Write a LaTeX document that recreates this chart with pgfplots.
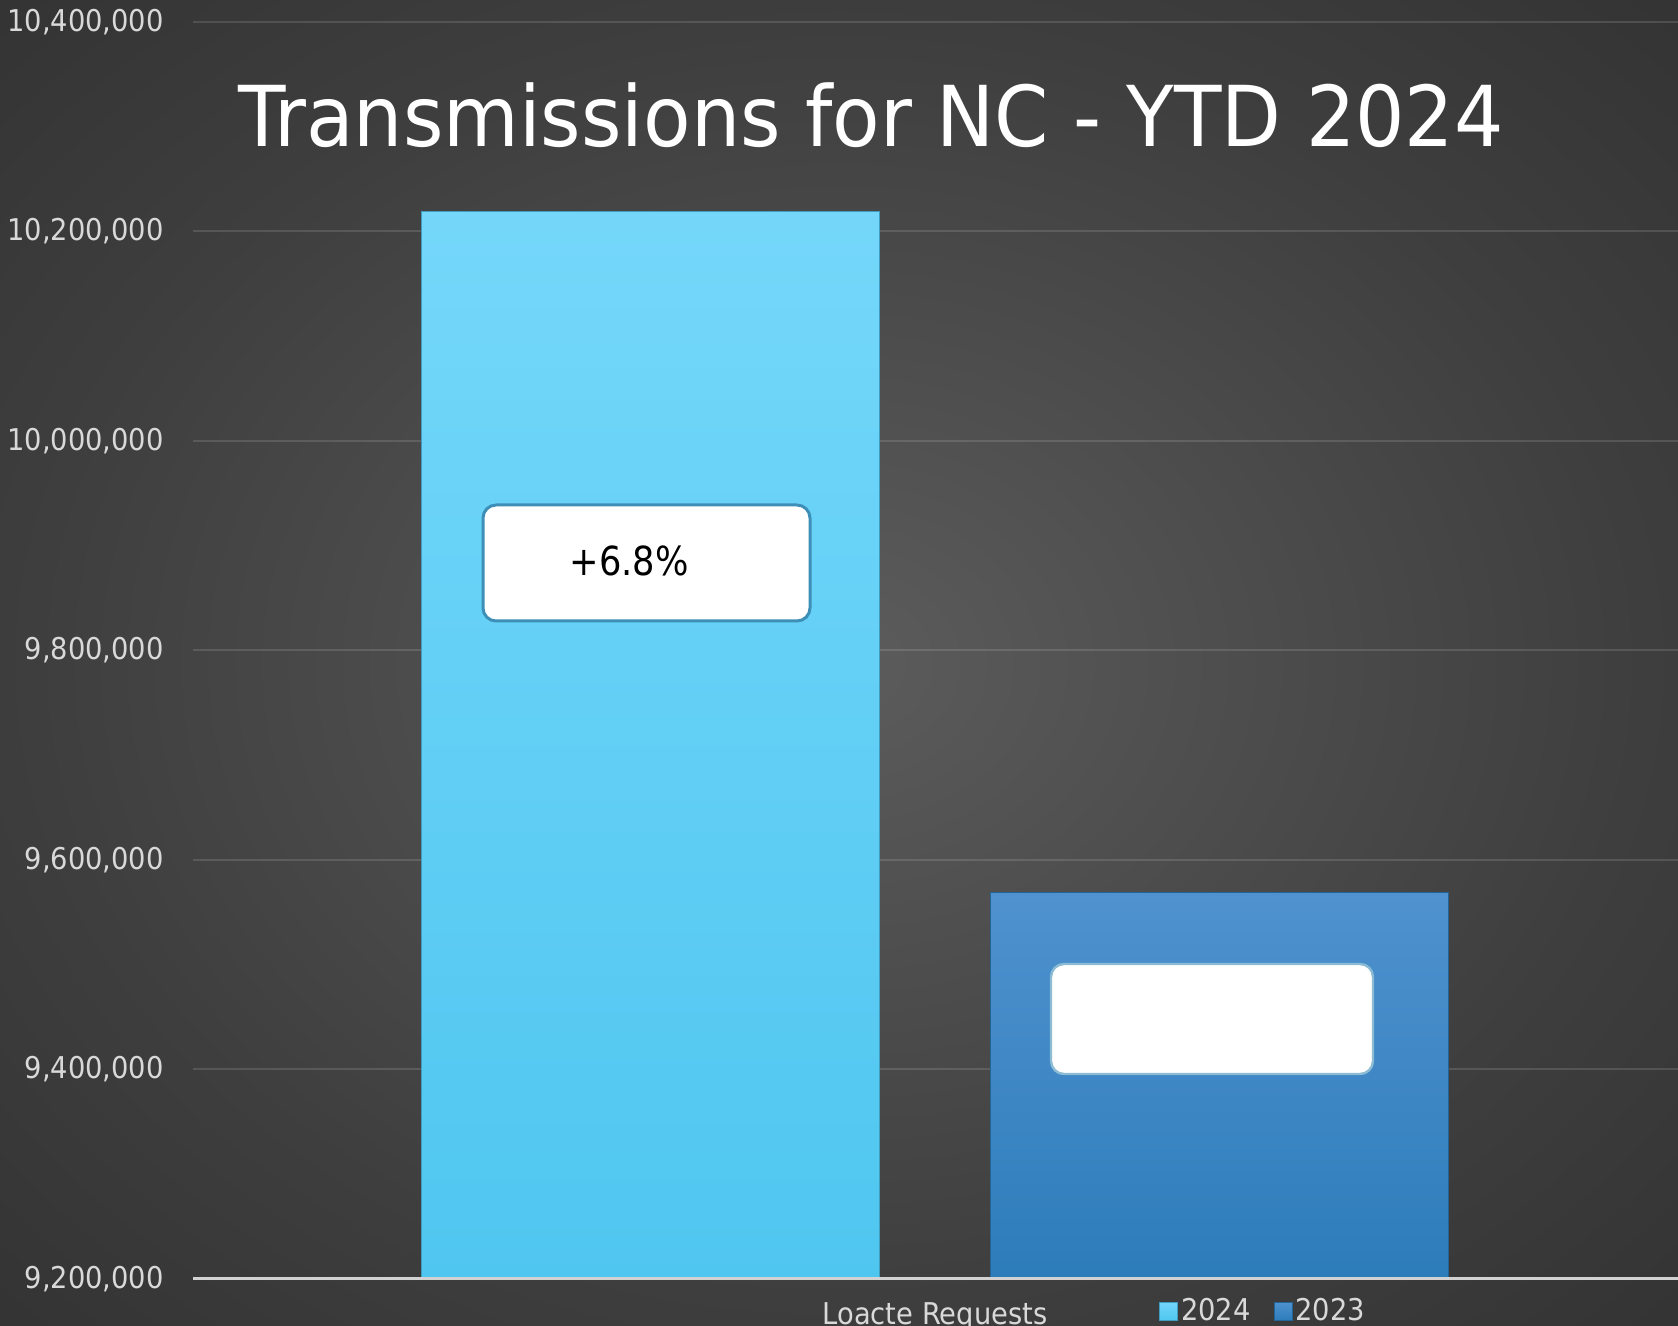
\documentclass[border=0pt]{standalone}
\usepackage{fontspec}
\setmainfont[FakeStretch=0.88]{DejaVu Sans}
\newfontfamily\titlefont[FakeStretch=0.925]{DejaVu Sans}
\newfontfamily\tickfont[FakeStretch=0.91]{DejaVu Sans}
\usepackage{pgfplots}
\pgfplotsset{compat=1.18}
\definecolor{bgin}{HTML}{5C5C5C}
\definecolor{bgmid}{HTML}{3E3E3E}
\definecolor{bgout}{HTML}{262626}
\definecolor{ticktext}{HTML}{D9D9D9}
\definecolor{bAtop}{HTML}{74D7FA}
\definecolor{bAbot}{HTML}{4FC6F0}
\definecolor{bBtop}{HTML}{4F92CF}
\definecolor{bBbot}{HTML}{2D7CBA}
\definecolor{boxedge}{HTML}{3D8FB8}
\pgfdeclareradialshading{bgshade}{\pgfpoint{0bp}{0bp}}{color(0bp)=(bgin); color(24bp)=(bgmid); color(50bp)=(bgout)}
\begin{document}
\begin{tikzpicture}
\useasboundingbox (0,0) rectangle (839bp,663bp);
\shade[shading=bgshade] (0,0) rectangle (839bp,663bp);
\begin{axis}[
  at={(96.5bp,23.5bp)}, anchor=south west,
  scale only axis, width=742.5bp, height=628.5bp,
  xmin=0, xmax=1485, ymin=9200000, ymax=10400000,
  axis line style={draw=none}, tick style={draw=none},
  ytick={9200000,9400000,9600000,9800000,10000000,10200000,10400000},
  scaled y ticks=false,
  ymajorgrids, grid style={white, opacity=0.13, line width=1bp},
  xtick={742}, xticklabels={Loacte Requests},
  ticklabel style={font=\tickfont\fontsize{15bp}{18bp}\selectfont, text=ticktext},
  yticklabel style={anchor=east, inner sep=0pt, xshift=-14.5bp,
    /pgf/number format/fixed, /pgf/number format/precision=0,
    /pgf/number format/1000 sep={,}, /pgf/number format/assume math mode=true},
  xticklabel style={anchor=north, inner sep=0pt, yshift=-11.5bp},
  legend style={at={(axis description cs:0.6505,-0.0255)}, anchor=west,
    draw=none, fill=none, inner sep=0pt, text=ticktext,
    font=\tickfont\fontsize{15bp}{18bp}\selectfont,
    nodes={inner sep=1.5bp},
    /tikz/every even column/.append style={column sep=10bp}},
  legend columns=2,
  legend image code/.code={\fill[#1] (0bp,-4.5bp) rectangle (9bp,4.5bp);},
]
\addplot[ybar, bar width=458, bar shift=0pt, draw=bAbot!80!black, line width=0.4bp,
  top color=bAtop, bottom color=bAbot] coordinates {(457.5,10219000)};
\addlegendentry{2024}
\addplot[ybar, bar width=458, bar shift=0pt, draw=bBbot!80!black, line width=0.4bp,
  top color=bBtop, bottom color=bBbot] coordinates {(1026,9569000)};
\addlegendentry{2023}
\end{axis}
% bottom axis line
\draw[color=white!65!gray, line width=1.5bp] (96.5bp,23.5bp) -- (839bp,23.5bp);
% title
\node[anchor=base, text=white, inner sep=0pt, font=\titlefont\fontsize{42bp}{50bp}\selectfont]
  at (435.5bp,589.7bp) {Transmissions for NC - YTD 2024};
% label boxes
\draw[fill=white, draw=boxedge, line width=1.5bp, rounded corners=6.5bp]
  (241.5bp,352.5bp) rectangle (405bp,410.5bp);
\node[text=black, inner sep=0pt, font=\fontsize{20bp}{24bp}\selectfont]
  at (314.5bp,382.5bp) {+6.8\%};
\draw[fill=white, draw=boxedge!60!white, line width=1.2bp, rounded corners=6.5bp]
  (525.5bp,126bp) rectangle (686.5bp,181bp);
\end{tikzpicture}
\end{document}
